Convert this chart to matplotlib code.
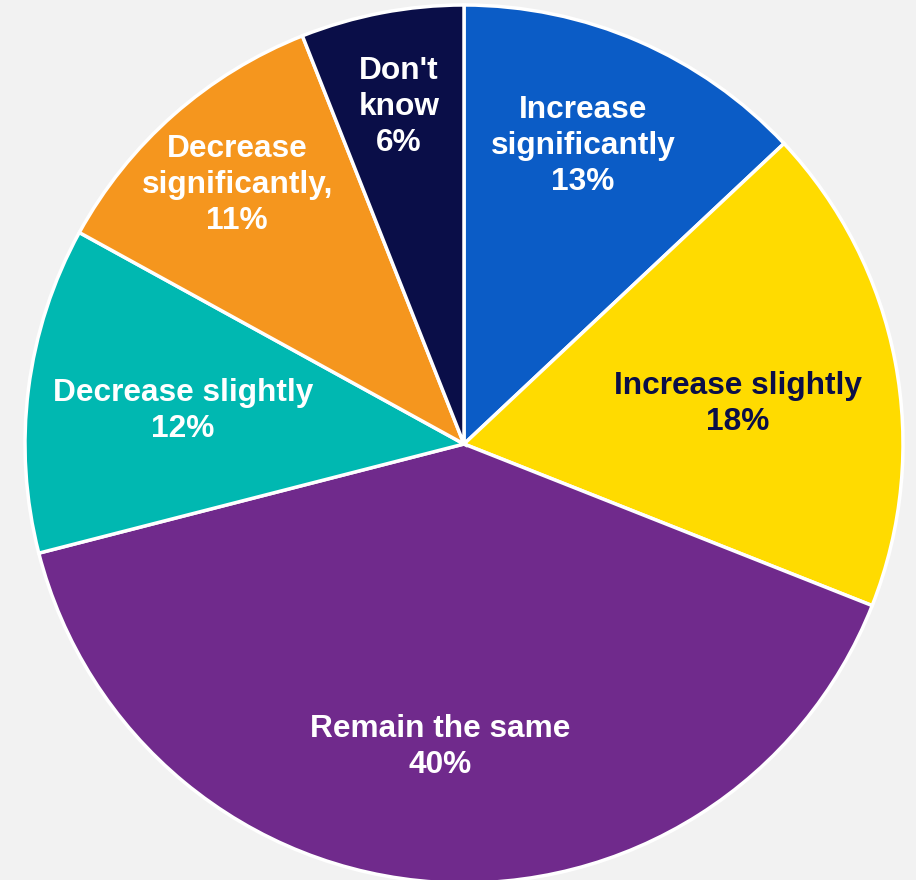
import numpy as np
import matplotlib.pyplot as plt

# Share of responses, clockwise from 12 o'clock
labels = ["Increase\nsignificantly", "Increase slightly", "Remain the same",
          "Decrease slightly", "Decrease\nsignificantly,", "Don't\nknow"]
shares = [13, 18, 40, 12, 11, 6]
colors = ["#0B5CC6", "#FFDB00", "#702A8C", "#00B8B1", "#F5961E", "#0A0E48"]
text_colors = ["white", "#0A0E48", "white", "white", "white", "white"]
# label placement: fraction of radius, and nudge from the wedge's mid angle (deg)
label_dist = [0.731, 0.631, 0.692, 0.645, 0.784, 0.782]
label_nudge = [1.6, -2.5, -0.9, 0.5, -0.2, 0.1]

W, H = 916, 880
R = 439.0
cx, cy = 464, 444

fig = plt.figure(figsize=(W / 100, H / 100), dpi=100, facecolor="#F2F2F2")
ax = fig.add_axes([0, 0, 1, 1])
ax.set_facecolor("#F2F2F2")

wedges, _ = ax.pie(shares, colors=colors, startangle=90, counterclock=False,
                   wedgeprops=dict(edgecolor="white", linewidth=2.5))

for w, lab, pct, tc, d, nudge in zip(wedges, labels, shares, text_colors,
                                     label_dist, label_nudge):
    mid = np.deg2rad((w.theta1 + w.theta2) / 2 + nudge)
    ax.text(d * np.cos(mid), d * np.sin(mid), f"{lab}\n{pct}%",
            ha="center", va="center", color=tc, fontsize=22.8,
            fontweight="bold", family="Liberation Sans", linespacing=1.25)

ax.set_xlim(-cx / R, (W - cx) / R)
ax.set_ylim(-(H - cy) / R, cy / R)
ax.set_aspect("equal")
ax.axis("off")

fig.savefig("out.png", dpi=100, facecolor=fig.get_facecolor())
